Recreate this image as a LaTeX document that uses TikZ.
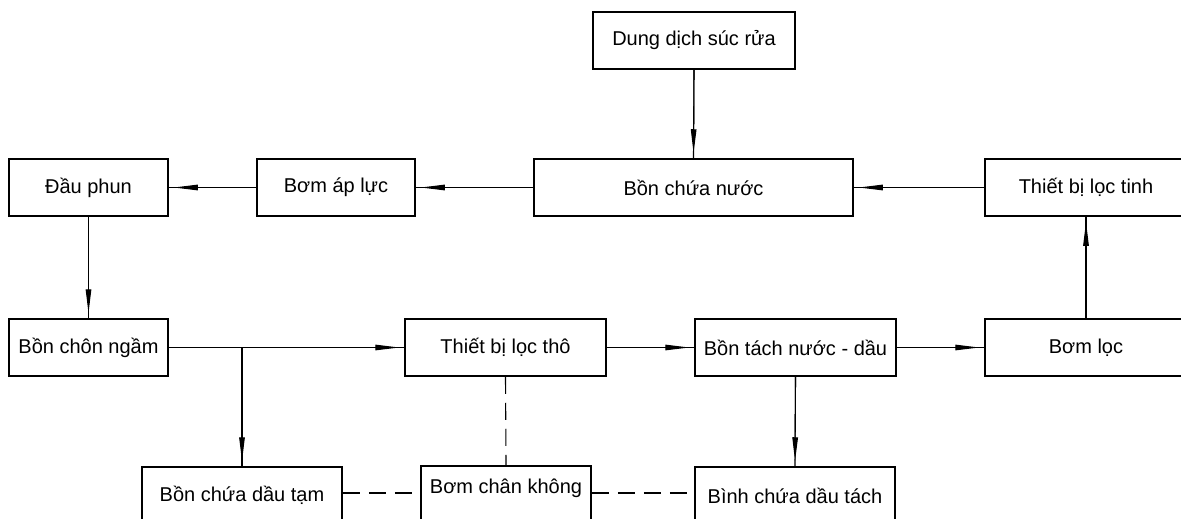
\documentclass[tikz,border=0pt]{standalone}
\usepackage{fontspec}
\setmainfont{Liberation Sans}
\usetikzlibrary{arrows.meta}
\tikzset{
  box/.style={draw, line width=1.5pt, inner sep=0pt, minimum height=57pt, font=\fontsize{20}{23}\selectfont, anchor=center},
  flow/.style={draw, line width=1.1pt, postaction={draw, line width=1.1pt, -{Triangle[length=24pt,width=5.5pt]}, shorten >=5pt}},
  link/.style={draw, line width=1.1pt, dash pattern=on 17pt off 9pt},
}
\begin{document}
\begin{tikzpicture}[x=1pt,y=-1pt]
\useasboundingbox (0,0) rectangle (1181,519);
\clip (0,0) rectangle (1181,519);
\fill[white] (0,0) rectangle (1181,519);
% row 1
\node[box, minimum width=202pt] (dd) at (694,40.5) {Dung dịch súc rửa};
% row 2
\node[box, minimum width=159pt] (dp) at (88.5,187.5) {Đầu phun};
\node[box, minimum width=158pt] (bal) at (336,187.5) {Bơm áp lực};
\node[box, minimum width=319pt] (bcn) at (693.5,187.5) {Bồn chứa nước};
\node[box, minimum width=202pt] (lt) at (1086,187.5) {Thiết bị lọc tinh};
% row 3
\node[box, minimum width=159pt] (bng) at (88.5,347.5) {Bồn chôn ngầm};
\node[box, minimum width=201pt] (lth) at (505.5,347.5) {Thiết bị lọc thô};
\node[box, minimum width=201pt] (bt) at (795.5,347.5) {Bồn tách nước - dầu};
\node[box, minimum width=202pt] (bl) at (1086,347.5) {Bơm lọc};
% row 4
\node[box, minimum width=200pt] (dt) at (242,495.5) {Bồn chứa dầu tạm};
\node[box, minimum width=170pt] (bck) at (506,494.5) {};
\node[font=\fontsize{20}{23}\selectfont] (bcktext) at (506,488) {Bơm chân không};
\node[box, minimum width=200pt] (bh) at (795,495.5) {Bình chứa dầu tách};
% connectors
\draw[flow] (dd.south) -- (bcn.north);
\draw[flow] (bcn.west) -- (bal.east);
\draw[flow] (bal.west) -- (dp.east);
\draw[flow] (lt.west) -- (bcn.east);
\draw[flow] (dp.south) -- (bng.north);
\draw[flow] (bng.east) -- (lth.west);
\coordinate (br) at (dt.north |- bng.east);
\draw[flow] (br) -- (dt.north);
\draw[flow] (lth.east) -- (bt.west);
\draw[flow] (bt.east) -- (bl.west);
\draw[flow] (bl.north) -- (lt.south);
\draw[flow] (bt.south) -- (bh.north);
\draw[link] (lth.south) -- (bck.north);
\coordinate (dl) at (dt.east |- 0,493);
\coordinate (bckl) at (bck.west |- 0,493);
\coordinate (bckr) at (bck.east |- 0,493);
\coordinate (bhl) at (bh.west |- 0,493);
\draw[link] (dl) -- (bckl);
\draw[link] (bckr) -- (bhl);
\end{tikzpicture}
\end{document}
